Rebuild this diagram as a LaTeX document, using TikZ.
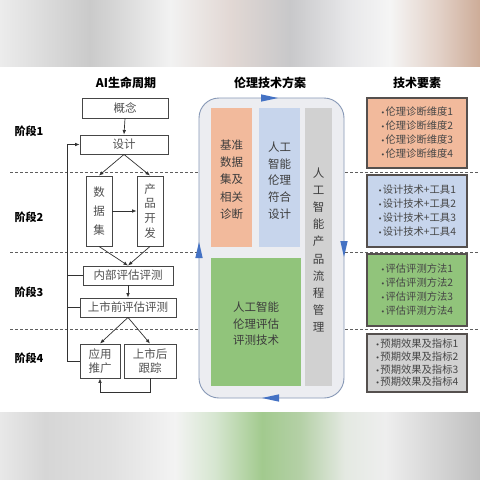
\documentclass[tikz,border=0pt]{standalone}
\usepackage{fontspec}
\setmainfont{Noto Sans CJK SC}
\newfontfamily\dejavu{DejaVu Sans}
\newcommand\bul{{\dejavu\fontsize{7}{7}\selectfont •}\hspace{0.6pt}}
\usetikzlibrary{arrows.meta}
\definecolor{orf}{RGB}{242,186,156}
\definecolor{blf}{RGB}{199,213,236}
\definecolor{grf}{RGB}{209,209,209}
\definecolor{gnf}{RGB}{145,196,123}
\definecolor{cbg}{RGB}{236,237,241}
\definecolor{cbord}{RGB}{135,152,182}
\definecolor{arrblue}{RGB}{68,114,196}
\definecolor{lboxc}{RGB}{70,70,70}
\definecolor{ltext}{RGB}{80,80,80}
\definecolor{ctext}{RGB}{60,60,60}
\definecolor{rbord}{RGB}{85,80,78}
\definecolor{rtext}{RGB}{70,70,70}
\definecolor{dashc}{RGB}{95,95,95}
\definecolor{arrc}{RGB}{50,50,50}
\begin{document}
\begin{tikzpicture}[x=1pt,y=-1pt,
  lbox/.style={draw=lboxc, line width=0.9pt, fill=white, text=ltext,
    font=\fontsize{11.5}{15}\selectfont, inner sep=0pt, align=center},
  arr/.style={-{Latex[length=4.5pt,width=3.6pt]}, line width=0.7pt, draw=arrc},
  conn/.style={line width=0.7pt, draw=arrc},
  stage/.style={font=\bfseries\fontsize{11}{13}\selectfont, text=black},
  head/.style={font=\bfseries\fontsize{12}{14}\selectfont, text=black},
  dline/.style={draw=dashc, line width=0.8pt, dash pattern=on 3pt off 2pt},
  rbox/.style={draw=rbord, line width=1.1pt, minimum width=100pt, inner sep=0pt,
    align=left, font=\fontsize{10.3}{14}\selectfont, text=rtext},
  ctxt/.style={text=ctext, align=center, inner sep=0pt},
  tri/.style={fill=arrblue, draw=none}
]
\useasboundingbox (0,0) rectangle (480,480);
\fill[white] (0,0) rectangle (480,480);
% top blurred band
\shade[left color={rgb,255:red,236;green,236;blue,236}, right color={rgb,255:red,202;green,202;blue,202}] (0,0) rectangle (90,66);
\shade[left color={rgb,255:red,202;green,202;blue,202}, right color={rgb,255:red,242;green,242;blue,242}] (90,0) rectangle (170,66);
\shade[left color={rgb,255:red,242;green,242;blue,242}, right color={rgb,255:red,226;green,216;blue,212}] (170,0) rectangle (230,66);
\shade[left color={rgb,255:red,226;green,216;blue,212}, right color={rgb,255:red,200;green,200;blue,202}] (230,0) rectangle (290,66);
\shade[left color={rgb,255:red,200;green,200;blue,202}, right color={rgb,255:red,232;green,232;blue,234}] (290,0) rectangle (350,66);
\shade[left color={rgb,255:red,232;green,232;blue,234}, right color={rgb,255:red,245;green,245;blue,245}] (350,0) rectangle (390,66);
\shade[left color={rgb,255:red,245;green,245;blue,245}, right color={rgb,255:red,226;green,208;blue,198}] (390,0) rectangle (440,66);
\shade[left color={rgb,255:red,226;green,208;blue,198}, right color={rgb,255:red,205;green,172;blue,152}] (440,0) rectangle (480,66);
% bottom blurred band
\shade[left color={rgb,255:red,232;green,232;blue,232}, right color={rgb,255:red,214;green,214;blue,214}] (0,412) rectangle (45,480);
\shade[left color={rgb,255:red,214;green,214;blue,214}, right color={rgb,255:red,224;green,224;blue,224}] (45,412) rectangle (110,480);
\shade[left color={rgb,255:red,224;green,224;blue,224}, right color={rgb,255:red,243;green,243;blue,243}] (110,412) rectangle (175,480);
\shade[left color={rgb,255:red,243;green,243;blue,243}, right color={rgb,255:red,214;green,230;blue,208}] (175,412) rectangle (215,480);
\shade[left color={rgb,255:red,214;green,230;blue,208}, right color={rgb,255:red,162;green,202;blue,142}] (215,412) rectangle (262,480);
\shade[left color={rgb,255:red,162;green,202;blue,142}, right color={rgb,255:red,180;green,208;blue,166}] (262,412) rectangle (300,480);
\shade[left color={rgb,255:red,180;green,208;blue,166}, right color={rgb,255:red,228;green,233;blue,226}] (300,412) rectangle (345,480);
\shade[left color={rgb,255:red,228;green,233;blue,226}, right color={rgb,255:red,238;green,238;blue,238}] (345,412) rectangle (385,480);
\shade[left color={rgb,255:red,238;green,238;blue,238}, right color={rgb,255:red,214;green,214;blue,214}] (385,412) rectangle (435,480);
\shade[left color={rgb,255:red,214;green,214;blue,214}, right color={rgb,255:red,192;green,192;blue,192}] (435,412) rectangle (480,480);

% headers
\node[head] (h1) at (126,83) {AI生命周期};
\node[head] (h2) at (270,83) {伦理技术方案};
\node[head] (h3) at (417,83) {技术要素};

% dashed stage separators
\draw[dline] (10,172) -- (478,172);
\draw[dline] (10,252) -- (478,252);
\draw[dline] (10,329) -- (478,329);

% stage labels
\node[stage] (s1) at (29,131) {阶段1};
\node[stage] (s2) at (29,217) {阶段2};
\node[stage] (s3) at (29,292) {阶段3};
\node[stage] (s4) at (29,358) {阶段4};

% left lifecycle
\node[lbox, minimum width=86pt, minimum height=20pt] (gn) at (125,108) {概念};
\node[lbox, minimum width=88pt, minimum height=19pt] (sj) at (124,144.5) {设计};
\node[lbox, minimum width=26pt, minimum height=70pt, font=\fontsize{11.5}{19}\selectfont] (sjj) at (99,211) {数\\据\\集};
\node[lbox, minimum width=26pt, minimum height=70pt, font=\fontsize{11.5}{14.8}\selectfont] (cp) at (150,211) {产\\品\\开\\发};
\node[lbox, minimum width=90pt, minimum height=19pt] (nb) at (128,275.5) {内部评估评测};
\node[lbox, minimum width=96pt, minimum height=19pt] (sq) at (128,307.5) {上市前评估评测};
\node[lbox, minimum width=40pt, minimum height=34pt, font=\fontsize{11.5}{14.5}\selectfont] (yy) at (100,361) {应用\\推广};
\node[lbox, minimum width=52pt, minimum height=34pt, font=\fontsize{11.5}{14.5}\selectfont] (gz) at (150,361) {上市后\\跟踪};

\draw[arr] (gn.south) -- (sj.north);
\draw[arr] (sj.south) -- (sjj.north);
\draw[arr] (sj.south) -- (cp.north);
\draw[arr] (sjj.east) -- (cp.west);
\draw[arr] (sjj.south) -- (nb.north);
\draw[arr] (cp.south) -- (nb.north);
\draw[arr] (nb.south) -- (sq.north);
\draw[arr] (sq.south) -- (yy.north);
\draw[arr] (sq.south) -- (gz.north);
\draw[arr] (gz.south) -- ++(0,14) -| (yy.south);
\coordinate (fb) at (67,361);
\draw[arr] (yy.west) -- (fb) |- (sj.west);
\draw[conn] (nb.west) -- (nb.west -| fb);
\draw[conn] (sq.west) -- (sq.west -| fb);

% central ethics scheme
\node[draw=cbord, fill=cbg, line width=0.9pt, rounded corners=20pt,
  minimum width=145pt, minimum height=300pt, inner sep=0pt] (cb) at (271.5,248) {};
\fill[tri] (261,94.3) -- (278,98) -- (261,101.7) -- cycle;
\fill[tri] (340.3,241) -- (344,257) -- (347.7,241) -- cycle;
\fill[tri] (279,394.3) -- (262,398) -- (279,401.7) -- cycle;
\fill[tri] (195.3,258) -- (199,242) -- (202.7,258) -- cycle;

\node[fill=orf, inner sep=0pt, minimum width=41pt, minimum height=139pt] (c1) at (231.5,177.5) {};
\node[fill=blf, inner sep=0pt, minimum width=41pt, minimum height=139pt] (c2) at (279.5,177.5) {};
\node[fill=grf, inner sep=0pt, minimum width=27pt, minimum height=278pt] (c3) at (318.5,247) {};
\node[fill=gnf, inner sep=0pt, minimum width=90pt, minimum height=128pt] (c4) at (256,322) {};

\node[ctxt, font=\fontsize{11.5}{17.2}\selectfont] (t1) at (231.5,179.5) {基准\\数据\\集及\\相关\\诊断};
\node[ctxt, font=\fontsize{11.5}{16.8}\selectfont] (t2) at (279.5,180.5) {人工\\智能\\伦理\\符合\\设计};
\node[ctxt, font=\fontsize{11.5}{17.1}\selectfont] (t3) at (318.5,250) {人\\工\\智\\能\\产\\品\\流\\程\\管\\理};
\node[ctxt, font=\fontsize{11.5}{16.5}\selectfont] (t4) at (256,324) {人工智能\\伦理评估\\评测技术};

% right technical elements
\node[rbox, fill=orf, minimum height=70pt] (r1) at (417,133) {\bul 伦理诊断维度1\\\bul 伦理诊断维度2\\\bul 伦理诊断维度3\\\bul 伦理诊断维度4};
\node[rbox, fill=blf, minimum height=72pt] (r2) at (417,211) {\bul 设计技术+工具1\\\bul 设计技术+工具2\\\bul 设计技术+工具3\\\bul 设计技术+工具4};
\node[rbox, fill=gnf, minimum height=72pt] (r3) at (417,290) {\bul 评估评测方法1\\\bul 评估评测方法2\\\bul 评估评测方法3\\\bul 评估评测方法4};
\node[rbox, fill=grf, minimum height=58pt, font=\fontsize{10.3}{12.7}\selectfont] (r4) at (417,363) {\bul 预期效果及指标1\\\bul 预期效果及指标2\\\bul 预期效果及指标3\\\bul 预期效果及指标4};
\end{tikzpicture}
\end{document}
